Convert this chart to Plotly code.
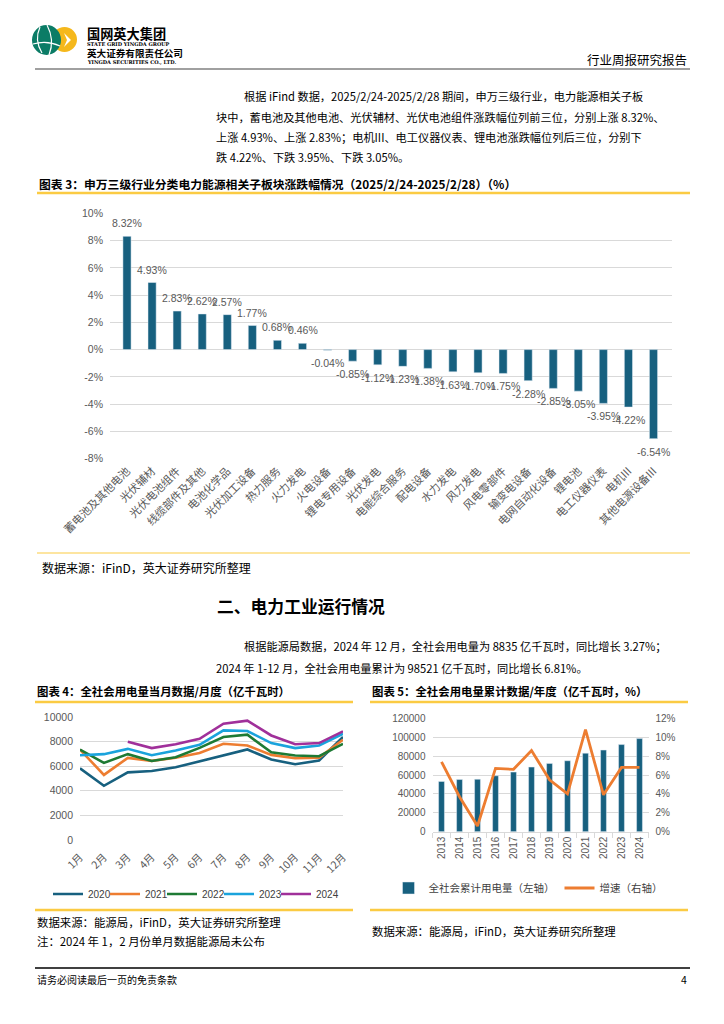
import plotly.graph_objects as go

W, H = 724, 1024
def X(px): return px / W
def Y(py): return 1 - py / H

CJK = "Noto Sans CJK SC"
NUM = "Liberation Sans"
GRAY = "#595959"
GRID = "#D9D9D9"
YEL = "#FBCB43"
BLUE = "#17607F"

# ---------------- data ----------------
sectors = ["蓄电池及其他电池", "光伏辅材", "光伏电池组件", "线缆部件及其他", "电池化学品",
           "光伏加工设备", "热力服务", "火力发电", "火电设备", "锂电专用设备", "光伏发电",
           "电能综合服务", "配电设备", "水力发电", "风力发电", "风电零部件", "输变电设备",
           "电网自动化设备", "锂电池", "电工仪器仪表", "电机III", "其他电源设备III"]
changes = [8.32, 4.93, 2.83, 2.62, 2.57, 1.77, 0.68, 0.46, -0.04, -0.85, -1.12,
           -1.23, -1.38, -1.63, -1.70, -1.75, -2.28, -2.85, -3.05, -3.95, -4.22, -6.54]
pct_ticks = [-8, -6, -4, -2, 0, 2, 4, 6, 8, 10]

months = ["1月", "2月", "3月", "4月", "5月", "6月", "7月", "8月", "9月", "10月", "11月", "12月"]
use_2020 = [5830, 4410, 5500, 5610, 5910, 6380, 6870, 7360, 6540, 6160, 6460, 8370]
use_2021 = [7350, 5290, 6680, 6430, 6680, 7080, 7820, 7680, 6920, 6650, 6700, 8150]
use_2022 = [7350, 6270, 6980, 6430, 6730, 7490, 8370, 8560, 7140, 6870, 6810, 7820]
use_2023 = [6890, 6980, 7410, 6890, 7280, 7740, 8910, 8860, 7880, 7470, 7680, 8640]
use_2024 = [None, None, 7980, 7470, 7790, 8230, 9460, 9700, 8500, 7790, 7880, 8835]
series_names = ["2020", "2021", "2022", "2023", "2024"]
series_colors = ["#17607F", "#ED7D31", "#1E7A34", "#1AA3DC", "#A0309A"]

years = ["2013", "2014", "2015", "2016", "2017", "2018", "2019", "2020", "2021", "2022", "2023", "2024"]
cumulative = [53200, 55200, 55500, 59200, 63100, 68400, 72300, 75100, 83100, 86400, 92200, 98521]
growth = [7.4, 3.7, 0.6, 6.7, 6.6, 8.6, 5.5, 4.0, 10.8, 3.9, 6.8, 6.81]

fig = go.Figure()

# ---------- chart 3: bars ----------
fig.add_trace(go.Bar(x=sectors, y=changes, marker_color=BLUE, showlegend=False,
                     xaxis="x", yaxis="y"))

# ---------- chart 4: lines (one legend box per series) ----------
legend_starts = [48, 105, 162, 219, 276]   # left edge of each legend entry (px)
legend_boxes = {}
for i, (name, vals, col) in enumerate(zip(series_names, [use_2020, use_2021, use_2022, use_2023, use_2024], series_colors)):
    lid = "legend%d" % (i + 2)
    fig.add_trace(go.Scatter(x=months, y=vals, name=name, mode="lines",
                             line=dict(color=col, width=2.6), xaxis="x2", yaxis="y2",
                             legend=lid, connectgaps=False))
    legend_boxes[lid] = dict(orientation="h", x=X(legend_starts[i]), y=Y(894), xanchor="left",
                             yanchor="middle", font=dict(family=NUM, size=10, color="#404040"),
                             bgcolor="rgba(0,0,0,0)", itemwidth=30)

# ---------- chart 5: bars + line ----------
fig.add_trace(go.Bar(x=years, y=cumulative, name="全社会累计用电量（左轴）", marker_color=BLUE,
                     xaxis="x3", yaxis="y3", legend="legend"))
fig.add_trace(go.Scatter(x=years, y=growth, name="增速（右轴）", mode="lines",
                         line=dict(color="#ED7D31", width=2.8), xaxis="x3", yaxis="y4",
                         legend="legend"))

ann = []
def T(text, x, y, size=12, color="#000", xanchor="left", bold=False, font=CJK):
    ann.append(dict(text=("<b>%s</b>" % text) if bold else text, x=X(x), y=Y(y), xref="paper",
                    yref="paper", showarrow=False, xanchor=xanchor, yanchor="middle",
                    font=dict(family=font, size=size, color=color)))

# bar data labels
for s, v in zip(sectors, changes):
    ann.append(dict(text="%.2f%%" % v, x=s, y=v, xref="x", yref="y", showarrow=False,
                    yshift=13 if v >= 0 else -13, yanchor="middle",
                    font=dict(family=NUM, size=10.5, color=GRAY)))

# header
T("国网英大集团", 85, 33, 13.2, bold=True)
T("STATE GRID YINGDA GROUP", 85, 44, 5, bold=True, font="DejaVu Serif")
T("英大证券有限责任公司", 85, 53, 9.6, bold=True)
T("YINGDA SECURITIES CO., LTD.", 85, 62, 5, bold=True, font="DejaVu Serif")
T("行业周报研究报告", 689, 59, 12.5, xanchor="right")

# paragraph 1
P_SIZE = 11.2
T("根据 iFind 数据，2025/2/24-2025/2/28 期间，申万三级行业，电力能源相关子板", 242, 96, P_SIZE)
T("块中，蓄电池及其他电池、光伏辅材、光伏电池组件涨跌幅位列前三位，分别上涨 8.32%、", 214, 117, P_SIZE)
T("上涨 4.93%、上涨 2.83%；电机III、电工仪器仪表、锂电池涨跌幅位列后三位，分别下", 214, 137, P_SIZE)
T("跌 4.22%、下跌 3.95%、下跌 3.05%。", 214, 157, P_SIZE)

T("图表 3：申万三级行业分类电力能源相关子板块涨跌幅情况（2025/2/24-2025/2/28）（%）", 37, 183, 11.8, bold=True)
T("数据来源：iFinD，英大证券研究所整理", 40, 567, 12)

T("二、电力工业运行情况", 215, 606, 16.8, bold=True)
T("根据能源局数据，2024 年 12 月，全社会用电量为 8835 亿千瓦时，同比增长 3.27%；", 242, 646, P_SIZE)
T("2024 年 1-12 月，全社会用电量累计为 98521 亿千瓦时，同比增长 6.81%。", 214, 668, P_SIZE)

T("图表 4：全社会用电量当月数据/月度（亿千瓦时）", 35, 691, 11.4, bold=True)
T("图表 5：全社会用电量累计数据/年度（亿千瓦时，%）", 370, 691, 11.4, bold=True)
T("数据来源：能源局，iFinD，英大证券研究所整理", 35, 922, 11.4)
T("注：2024 年 1，2 月份单月数据能源局未公布", 35, 941, 11.4)
T("数据来源：能源局，iFinD，英大证券研究所整理", 370, 931, 11.4)

T("请务必阅读最后一页的免责条款", 35, 979, 10)
T("4", 689, 979, 10.5, xanchor="right")

shapes = []
def L(x0, y0, x1, y1, color, w):
    shapes.append(dict(type="line", xref="paper", yref="paper", x0=X(x0), x1=X(x1),
                       y0=Y(y0), y1=Y(y1), line=dict(color=color, width=w)))
L(35, 69, 690, 69, "#808080", 1.5)
L(37, 193, 690, 193, YEL, 2.5)
L(37, 553, 690, 553, YEL, 1.2)
L(35, 702, 353, 702, YEL, 2.5)
L(370, 702, 688, 702, YEL, 2.5)
L(35, 910, 353, 910, YEL, 2.5)
L(370, 910, 688, 910, YEL, 2.5)
L(35, 968, 690, 968, "#000000", 1.5)

# logo
shapes.append(dict(type="circle", xref="paper", yref="paper", x0=X(52), x1=X(77), y0=Y(52), y1=Y(27),
                   fillcolor="#F5B81C", line=dict(width=0)))
shapes.append(dict(type="circle", xref="paper", yref="paper", x0=X(32), x1=X(61), y0=Y(55), y1=Y(25),
                   fillcolor="#0B7C66", line=dict(width=0)))
def P(pts):
    return "M " + " L ".join("%f,%f" % (X(a), Y(b)) for a, b in pts) + " Z"
shapes.append(dict(type="path", xref="paper", yref="paper", path=P([(64, 33), (71, 40), (64, 47), (67, 40)]),
                   fillcolor="white", line=dict(width=0)))
shapes.append(dict(type="path", xref="paper", yref="paper",
                   path="M %f,%f Q %f,%f %f,%f" % (X(40), Y(27), X(34), Y(40), X(42), Y(53)),
                   line=dict(color="white", width=1.2)))
shapes.append(dict(type="path", xref="paper", yref="paper",
                   path="M %f,%f Q %f,%f %f,%f" % (X(33), Y(44), X(47), Y(40), X(60), Y(46)),
                   line=dict(color="white", width=1.2)))
shapes.append(dict(type="path", xref="paper", yref="paper",
                   path="M %f,%f Q %f,%f %f,%f" % (X(47), Y(25), X(55), Y(40), X(49), Y(55)),
                   line=dict(color="white", width=1.2)))

tickfont = dict(family=NUM, size=10.5, color=GRAY)
fig.update_layout(
    width=W, height=H, margin=dict(l=0, r=0, t=0, b=0, pad=0, autoexpand=False),
    paper_bgcolor="white", plot_bgcolor="white",
    bargap=0.675,
    annotations=ann, shapes=shapes,
    xaxis=dict(domain=[X(110), X(672)], tickangle=-45, showgrid=False, ticks="",
               tickfont=dict(family=CJK, size=11, color=GRAY), anchor="y", showline=False,
               automargin=False, ticklabelstandoff=3),
    yaxis=dict(domain=[Y(458.5), Y(213.5)], range=[-8, 10], tickvals=pct_ticks,
               ticktext=["%d%%" % v for v in pct_ticks], gridcolor=GRID, gridwidth=1,
               zeroline=False, tickfont=tickfont, anchor="x", ticklabelstandoff=6,
               automargin=False),
    xaxis2=dict(domain=[X(80), X(343)], tickangle=-45, showgrid=False, ticks="",
                tickfont=dict(family=CJK, size=10.5, color=GRAY), anchor="y2", showline=False,
                automargin=False, ticklabelstandoff=8),
    yaxis2=dict(domain=[Y(840), Y(717)], range=[0, 10000], dtick=2000, tickformat="d",
                gridcolor=GRID, zeroline=False, tickfont=tickfont, anchor="x2", ticklabelstandoff=6,
                automargin=False),
    xaxis3=dict(domain=[X(432.5), X(648.5)], tickangle=-90, showgrid=False, ticks="outside",
                tickson="boundaries", ticklen=5, tickcolor=GRID, showline=True, linecolor=GRID,
                tickfont=dict(family=NUM, size=10, color=GRAY), anchor="y3", automargin=False),
    yaxis3=dict(domain=[Y(831.7), Y(718.3)], range=[0, 120000], dtick=20000, tickformat="d",
                gridcolor=GRID, zeroline=False, tickfont=dict(family=NUM, size=10, color=GRAY),
                anchor="x3", ticklabelstandoff=6, automargin=False),
    yaxis4=dict(domain=[Y(831.7), Y(718.3)], range=[0, 12], dtick=2, ticksuffix="%",
                overlaying="y3", side="right", showgrid=False, zeroline=False,
                tickfont=dict(family=NUM, size=10, color=GRAY), anchor="x3", ticklabelstandoff=6,
                automargin=False),
    legend=dict(orientation="h", x=X(528), y=Y(888), xanchor="center", yanchor="middle",
                font=dict(family=CJK, size=10.5, color="#404040"), bgcolor="rgba(0,0,0,0)",
                itemwidth=30),
    showlegend=True,
)
fig.update_layout(**legend_boxes)

fig.write_html("out.html", config={"displayModeBar": False},
               post_script="document.body.style.margin='0';")
